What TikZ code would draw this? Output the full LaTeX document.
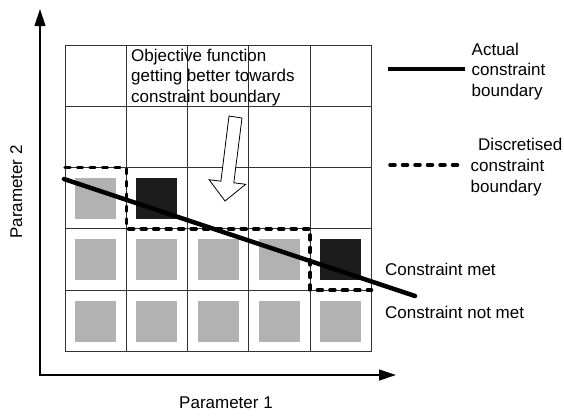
\documentclass[tikz,border=0pt]{standalone}
\usepackage{fontspec}
\setmainfont{Liberation Sans}
\usetikzlibrary{arrows.meta}
\begin{document}
\begin{tikzpicture}[x=1pt,y=-1pt,
  lbl/.style={anchor=base west,inner sep=0pt,font=\fontsize{17}{20.5}\selectfont},
  axislbl/.style={anchor=base,inner sep=0pt,font=\fontsize{17}{20.5}\selectfont},
  gridline/.style={line width=0.9pt,draw=black!80},
  axis/.style={line width=1.2pt,{Triangle[length=17pt,width=11pt]}-{Triangle[length=17pt,width=11pt]}},
  feasible/.style={fill=black!30},
  infeasible/.style={fill=black!89},
  actual/.style={line width=4.5pt,line cap=round},
  discrete/.style={line width=3.5pt,line cap=round,dash pattern=on 5pt off 7.5pt},
  hollowarrow/.style={fill=white,draw=black,line width=0.8pt,line join=miter}]

\useasboundingbox (0,0) rectangle (564,415);

% axes
\draw[axis] (40,9) -- (40,375) -- (396,375);
\node[axislbl] (p1) at (226,408) {Parameter 1};
\node[axislbl,rotate=90] (p2) at (22,192) {Parameter 2};

% sample points: grey = constraint met, dark = constraint not met
\foreach \c/\r in {0/2,0/3,1/3,2/3,3/3,0/4,1/4,2/4,3/4,4/4}
  \fill[feasible] (75+61.3*\c,55.5+61.3*\r) rectangle ++(41,41);
\foreach \c/\r in {1/2,4/3}
  \fill[infeasible] (75+61.3*\c,55.5+61.3*\r) rectangle ++(41,41);

% parameter grid
\foreach \i in {0,...,5}{
  \draw[gridline] (65+61.3*\i,45) -- (65+61.3*\i,351.5);
  \draw[gridline] (65,45+61.3*\i) -- (371.5,45+61.3*\i);
}

% discretised boundary
\draw[discrete] (65,167.6) -- (126.3,167.6) -- (126.3,228.9) -- (310.2,228.9)
  -- (310.2,290.2) -- (371.5,290.2);

% actual boundary
\draw[actual] (64,179) -- (415,296);

% direction of improving objective
\draw[hollowarrow] (229,116) -- (242,118) -- (233.8,182.8) -- (245.7,184.3)
  -- (225,201) -- (209.1,179.7) -- (220.9,181.2) -- cycle;

\node[lbl] (obj1) at (131,61) {Objective function};
\node[lbl] (obj2) at (131,81.5) {getting better towards};
\node[lbl] (obj3) at (131,102) {constraint boundary};

% legend
\draw[actual,line cap=butt] (388,69) -- (465,69);
\node[lbl] (act1) at (471.5,55) {Actual};
\node[lbl] (act2) at (471.5,75.5) {constraint};
\node[lbl] (act3) at (471.5,96) {boundary};

\draw[discrete] (390,165) -- (462,165);
\node[lbl] (dis1) at (478,150.5) {Discretised};
\node[lbl] (dis2) at (470.5,171.5) {constraint};
\node[lbl] (dis3) at (470.5,192.5) {boundary};

\node[lbl] (met) at (385,275) {Constraint met};
\node[lbl] (notmet) at (385,318) {Constraint not met};
\end{tikzpicture}
\end{document}
